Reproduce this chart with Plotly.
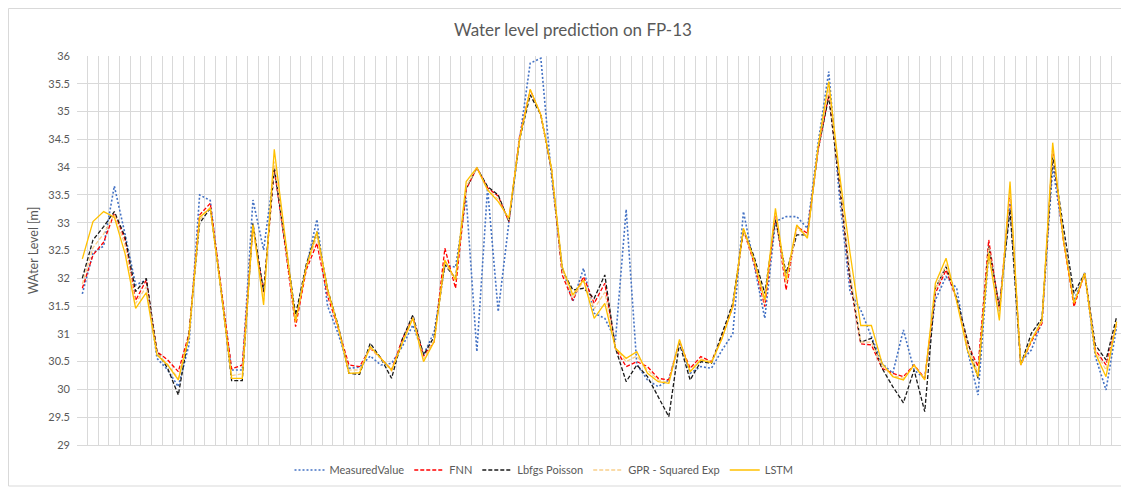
import plotly.graph_objects as go

measured = [31.72, 32.45, 32.58, 33.66, 32.8, 31.88, 31.97, 30.56, 30.35, 30.05,
            30.8, 33.5, 33.4, 31.8, 30.35, 30.35, 33.41, 32.51, 33.95, 32.7,
            31.25, 32.2, 33.06, 31.5, 31.0, 30.38, 30.4, 30.6, 30.44, 30.47,
            30.77, 31.16, 30.62, 31.04, 32.24, 32.2, 33.45, 30.68, 33.62, 31.4,
            33.0, 34.49, 35.87, 35.96, 33.83, 32.2, 31.58, 32.18, 31.37, 31.28,
            30.89, 33.24, 30.45, 30.17, 30.05, 30.17, 30.86, 30.29, 30.41, 30.38,
            30.71, 31.0, 33.2, 32.21, 31.28, 33.02, 33.11, 33.11, 32.9, 34.43,
            35.72, 33.47, 31.75, 31.43, 30.95, 30.47, 30.29, 31.07, 30.35, 30.2,
            31.61, 32.03, 31.82, 30.71, 29.9, 32.45, 31.4, 33.35, 30.5, 30.71,
            31.22, 34.01, 32.75, 31.6, 32.1, 30.59, 29.99, 31.13]
fnn = [31.82, 32.42, 32.65, 33.17, 32.7, 31.6, 31.97, 30.68, 30.53, 30.32,
       31.0, 33.14, 33.35, 31.85, 30.37, 30.44, 32.93, 31.73, 33.98, 32.6,
       31.13, 32.15, 32.63, 31.68, 31.1, 30.44, 30.41, 30.74, 30.56, 30.35,
       30.9, 31.3, 30.6, 30.86, 32.54, 31.82, 33.6, 33.99, 33.63, 33.48,
       33.02, 34.55, 35.39, 34.94, 33.95, 32.06, 31.6, 32.03, 31.55, 31.91,
       30.74, 30.41, 30.5, 30.41, 30.2, 30.17, 30.86, 30.38, 30.59, 30.5,
       30.95, 31.49, 32.87, 32.27, 31.49, 33.17, 31.79, 32.93, 32.81, 34.31,
       35.3, 33.72, 31.95, 30.82, 30.8, 30.38, 30.29, 30.23, 30.44, 30.2,
       31.73, 32.15, 31.61, 30.83, 30.41, 32.69, 31.43, 33.56, 30.44, 30.86,
       31.19, 34.31, 32.69, 31.49, 32.09, 30.71, 30.44, 31.19]
lbfgs = [32.0, 32.69, 32.93, 33.2, 32.75, 31.76, 32.0, 30.68, 30.38, 29.9,
         31.0, 32.99, 33.26, 31.8, 30.16, 30.16, 32.99, 31.76, 34.0, 32.65,
         31.34, 32.25, 32.84, 31.8, 31.15, 30.29, 30.27, 30.83, 30.56, 30.2,
         30.9, 31.34, 30.62, 30.95, 32.24, 32.0, 33.62, 33.99, 33.65, 33.5,
         33.02, 34.49, 35.3, 34.94, 33.95, 32.15, 31.79, 31.82, 31.64, 32.06,
         30.74, 30.14, 30.44, 30.23, 29.87, 29.51, 30.83, 30.17, 30.5, 30.47,
         31.01, 31.55, 32.87, 32.39, 31.73, 33.05, 32.09, 32.78, 32.78, 34.31,
         35.27, 33.71, 32.0, 30.85, 30.92, 30.38, 30.05, 29.76, 30.35, 29.6,
         31.82, 32.21, 31.64, 30.89, 30.2, 32.57, 31.49, 33.23, 30.44, 31.01,
         31.28, 34.19, 32.93, 31.73, 32.09, 30.8, 30.53, 31.31]
gpr = [31.9, 32.55, 32.8, 33.15, 32.6, 31.55, 31.85, 30.65, 30.45, 30.2,
       30.95, 33.05, 33.28, 31.8, 30.25, 30.28, 32.95, 31.6, 34.1, 32.7,
       31.2, 32.2, 32.75, 31.75, 31.12, 30.35, 30.35, 30.75, 30.55, 30.33,
       30.85, 31.3, 30.55, 30.88, 32.3, 31.95, 33.65, 33.99, 33.6, 33.42,
       33.05, 34.5, 35.38, 34.95, 33.97, 32.15, 31.65, 31.95, 31.45, 31.75,
       30.74, 30.5, 30.6, 30.35, 30.17, 30.12, 30.86, 30.33, 30.55, 30.5,
       30.93, 31.5, 32.88, 32.3, 31.55, 33.2, 31.9, 32.9, 32.75, 34.35,
       35.4, 33.8, 32.1, 30.85, 30.85, 30.42, 30.25, 30.2, 30.42, 30.2,
       31.8, 32.25, 31.6, 30.8, 30.3, 32.55, 31.35, 33.6, 30.44, 30.9,
       31.22, 34.35, 32.75, 31.55, 32.09, 30.7, 30.35, 31.2]
lstm = [32.35, 33.02, 33.2, 33.1, 32.45, 31.46, 31.74, 30.62, 30.44, 30.17,
        30.95, 33.1, 33.26, 31.8, 30.2, 30.2, 32.96, 31.52, 34.32, 32.75,
        31.22, 32.2, 32.84, 31.8, 31.12, 30.29, 30.3, 30.77, 30.55, 30.35,
        30.83, 31.28, 30.5, 30.86, 32.33, 31.97, 33.74, 33.99, 33.59, 33.38,
        33.08, 34.49, 35.4, 34.94, 33.98, 32.21, 31.7, 31.97, 31.28, 31.55,
        30.74, 30.56, 30.68, 30.29, 30.14, 30.11, 30.9, 30.32, 30.53, 30.48,
        30.92, 31.49, 32.9, 32.33, 31.61, 33.26, 31.97, 32.96, 32.72, 34.37,
        35.54, 33.89, 32.45, 31.15, 31.15, 30.47, 30.23, 30.17, 30.44, 30.17,
        31.91, 32.36, 31.58, 30.71, 30.23, 32.45, 31.24, 33.74, 30.44, 30.88,
        31.25, 34.44, 32.69, 31.55, 32.09, 30.65, 30.23, 31.22]

sample_index = list(range(len(measured)))
y_ticks = [29, 29.5, 30, 30.5, 31, 31.5, 32, 32.5, 33, 33.5, 34, 34.5, 35, 35.5, 36]
y_tick_text = [f"{v:g}" for v in y_ticks]

series = [
    ("MeasuredValue", measured, "#4472C4", "2px,2px", 1.6),
    ("FNN", fnn, "#FF0000", "4px,2px", 1.3),
    ("Lbfgs Poisson", lbfgs, "#1A1A1A", "4px,2px", 1.3),
    ("GPR - Squared Exp", gpr, "#F9CF8C", "4px,2px", 1.3),
    ("LSTM", lstm, "#FFC000", "solid", 1.3),
]

fig = go.Figure()
for name, vals, color, dash, w in series:
    fig.add_trace(go.Scatter(
        x=sample_index, y=vals, name=name, mode="lines",
        line=dict(color=color, dash=dash, width=w),
    ))

# The page places the figure 8px from the top-left corner (browser body margin).
OFF = 8
W, H = 1129 - OFF, 487 - OFF
L, T, R, B = 77 - OFF, 56 - OFF, 7, 42
PW, PH = W - L - R, H - T - B

font_family = "Lato, Open Sans, sans-serif"
fig.update_layout(
    width=W, height=H,
    margin=dict(l=L, r=R, t=T, b=B, pad=0, autoexpand=False),
    paper_bgcolor="white", plot_bgcolor="white",
    font=dict(family=font_family, color="#595959", size=11),
    title=dict(text="Water level prediction on FP-13", x=(573 - OFF) / W, xanchor="center",
               y=1 - (30 - OFF) / H, yanchor="middle", font=dict(size=17, color="#595959")),
    xaxis=dict(range=[-0.5, len(measured) - 0.5], tick0=-0.5, dtick=1,
               showticklabels=False, showgrid=True, gridcolor="#D9D9D9", gridwidth=1,
               zeroline=False, showline=True, linecolor="#D9D9D9", ticks="",
               automargin=False),
    yaxis=dict(range=[29, 36], tickvals=y_ticks, ticktext=y_tick_text,
               showgrid=True, gridcolor="#D9D9D9", gridwidth=1, zeroline=False,
               showline=False, ticks="", ticklabelstandoff=6, automargin=False,
               title=dict(text="WAter Level [m]", font=dict(size=12.5, color="#595959"), standoff=6)),
    legend=dict(orientation="h", x=(544 - 77) / PW, xanchor="center",
                y=-(470 - 445) / PH, yanchor="middle",
                font=dict(size=11, color="#595959"), tracegroupgap=0),
    showlegend=True,
)
fig.add_shape(type="rect", xref="paper", yref="paper",
              x0=(0.5 - L) / PW, x1=(1127 - OFF - L) / PW,
              y0=-(H - 1 - (H - B)) / PH, y1=1 + (T - 0.5) / PH,
              line=dict(color="#D9D9D9", width=1), layer="below")
fig.write_html("out.html")
